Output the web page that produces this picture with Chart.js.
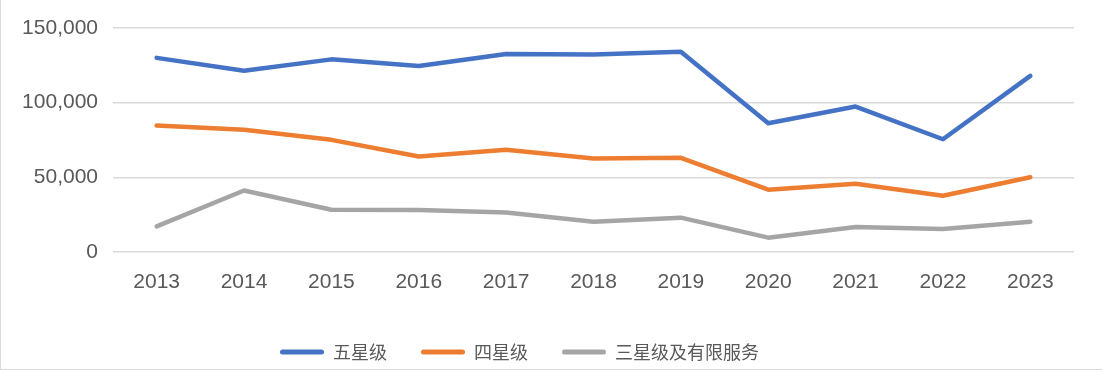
<!DOCTYPE html>
<html>
<head>
<meta charset="utf-8">
<script src="https://cdn.jsdelivr.net/npm/chart.js@4/dist/chart.umd.min.js"></script>
<style>
  html, body { margin: 0; padding: 0; background: #fff; }
  #wrap { width: 1102px; height: 370px; box-sizing: border-box; border-left: 1px solid #D9D9D9; border-bottom: 1px solid #D9D9D9; background: #fff; }
  canvas { display: block; }
</style>
</head>
<body>
<div id="wrap"><canvas id="c" width="1101" height="369"></canvas></div>
<script>
const years = ['2013','2014','2015','2016','2017','2018','2019','2020','2021','2022','2023'];
const fiveStar  = [130000, 121400, 129000, 124600, 132600, 132300, 134100, 86200, 97400, 75500, 117900];
const fourStar  = [84700, 81800, 75100, 64000, 68400, 62600, 63100, 41700, 45700, 37700, 50100];
const threeStar = [17200, 41200, 28300, 28200, 26500, 20300, 23000, 9600, 16700, 15400, 20300];
const seriesNames = ['五星级', '四星级', '三星级及有限服务'];
const seriesColors = ['#4472C4', '#ED7D31', '#A5A5A5'];
const yTicks = [0, 50000, 100000, 150000];

const txt = '#595959';
const legendShift = {
  id: 'legendShift',
  afterLayout(chart) {
    const lg = chart.legend;
    if (lg) { lg.left -= 18; lg.right -= 18; lg.top += 2; lg.bottom += 2; }
  }
};

new Chart(document.getElementById('c'), {
  type: 'line',
  data: {
    labels: years,
    datasets: [fiveStar, fourStar, threeStar].map((d, i) => ({
      label: seriesNames[i],
      data: d,
      borderColor: seriesColors[i],
      backgroundColor: seriesColors[i],
      borderWidth: 4.5,
      pointRadius: 0,
      tension: 0,
      borderCapStyle: 'round',
      borderJoinStyle: 'round'
    }))
  },
  options: {
    responsive: false,
    animation: false,
    layout: { padding: { top: 28, right: 28, bottom: 0, left: 0 } },
    plugins: {
      tooltip: { enabled: false },
      legend: {
        position: 'bottom',
        labels: {
          boxWidth: 44,
          boxHeight: 5,
          padding: 34,
          color: txt,
          font: { family: '"Noto Sans CJK SC", "Liberation Sans", sans-serif', size: 18 },
          generateLabels(chart) {
            return chart.data.datasets.map((ds, i) => ({
              text: ds.label,
              fillStyle: ds.borderColor,
              strokeStyle: ds.borderColor,
              lineWidth: 0,
              borderRadius: 2.5,
              fontColor: txt,
              datasetIndex: i,
              hidden: false
            }));
          }
        }
      }
    },
    scales: {
      x: {
        offset: true,
        grid: { display: false, drawTicks: false },
        border: { display: false },
        ticks: { color: txt, padding: 18, maxRotation: 0, font: { family: '"Liberation Sans", sans-serif', size: 21 } },
        afterFit(scale) { scale.height = 55; }
      },
      y: {
        min: 0,
        max: 150000,
        afterBuildTicks(scale) { scale.ticks = yTicks.map(v => ({ value: v })); },
        grid: { color: '#D9D9D9', lineWidth: 1.5, drawTicks: false },
        border: { display: false },
        ticks: {
          color: txt,
          padding: 15,
          font: { family: '"Liberation Sans", sans-serif', size: 21 },
          callback: v => v.toLocaleString('en-US')
        },
        afterFit(scale) { scale.width = 112; }
      }
    }
  },
  plugins: [legendShift]
});
</script>
</body>
</html>
